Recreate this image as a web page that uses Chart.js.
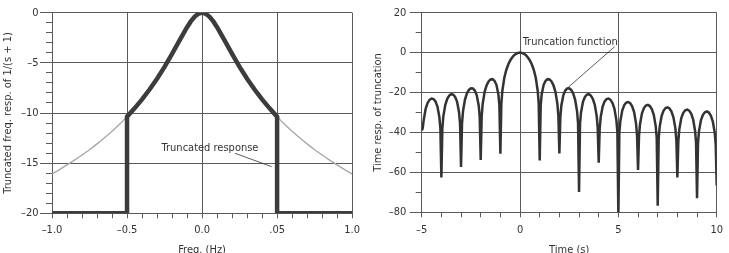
<!DOCTYPE html>
<html><head><meta charset="utf-8">
<script src="https://cdn.jsdelivr.net/npm/chart.js@4.4.0/dist/chart.umd.min.js"></script>
<style>
html,body{margin:0;padding:0;background:#fff;overflow:hidden;width:729px;height:253px;}
#left{position:absolute;left:0;top:0;}
#right{position:absolute;left:365px;top:0;}
</style></head><body>
<canvas id="left" width="365" height="260"></canvas>
<canvas id="right" width="364" height="260"></canvas>
<script>
// ---------- data: left panel ----------
const freqHz = [-1.0,-0.95,-0.9,-0.85,-0.8,-0.75,-0.7,-0.65,-0.6,-0.55,
  -0.5,-0.45,-0.4,-0.35,-0.3,-0.25,-0.2,-0.15,-0.1,-0.075,-0.05,-0.025,0,
  0.025,0.05,0.075,0.1,0.15,0.2,0.25,0.3,0.35,0.4,0.45,0.5,
  0.55,0.6,0.65,0.7,0.75,0.8,0.85,0.9,0.95,1.0];
const fullRespDb = [-16.07,-15.64,-15.18,-14.70,-14.19,-13.66,-13.08,-12.47,-11.82,-11.12,
  -10.36,-9.54,-8.64,-7.66,-6.58,-5.40,-4.11,-2.76,-1.44,-0.87,-0.41,-0.11,0,
  -0.11,-0.41,-0.87,-1.44,-2.76,-4.11,-5.40,-6.58,-7.66,-8.64,-9.54,-10.36,
  -11.12,-11.82,-12.47,-13.08,-13.66,-14.19,-14.70,-15.18,-15.64,-16.07];
const truncFreqHz = [-1.0,-0.5,-0.5,-0.45,-0.4,-0.35,-0.3,-0.25,-0.2,-0.15,-0.1,-0.075,-0.05,-0.025,0,
  0.025,0.05,0.075,0.1,0.15,0.2,0.25,0.3,0.35,0.4,0.45,0.5,0.5,1.0];
const truncRespDb = [-20,-20,-10.36,-9.54,-8.64,-7.66,-6.58,-5.40,-4.11,-2.76,-1.44,-0.87,-0.41,-0.11,0,
  -0.11,-0.41,-0.87,-1.44,-2.76,-4.11,-5.40,-6.58,-7.66,-8.64,-9.54,-10.36,-20,-20];
const freqTickValues = [-1,-0.5,0,0.5,1];
const freqTickLabels = ['\u20131.0','\u20130.5','0.0','.05','1.0'];
const leftYTickValues = [0,-5,-10,-15,-20];
const leftYTickLabels = ['0','\u20135','\u201310','\u201315','\u201320'];

// ---------- data: right panel ----------
const timeS = [
  -5,-4.95,-4.9,-4.8,-4.7,-4.6,-4.5,-4.4,-4.3,-4.2,-4.1,-4.05,
  -4,-3.95,-3.9,-3.8,-3.7,-3.6,-3.5,-3.4,-3.3,-3.2,-3.1,-3.05,
  -3,-2.95,-2.9,-2.8,-2.7,-2.6,-2.5,-2.4,-2.3,-2.2,-2.1,-2.05,
  -2,-1.95,-1.9,-1.8,-1.7,-1.6,-1.5,-1.4,-1.3,-1.2,-1.1,-1.05,
  -1,-0.95,-0.9,-0.8,-0.7,-0.6,-0.5,-0.4,-0.3,-0.2,-0.1,
  0,0.1,0.2,0.3,0.4,0.5,0.6,0.7,0.8,0.9,0.95,
  1,1.05,1.1,1.2,1.3,1.4,1.5,1.6,1.7,1.8,1.9,1.95,
  2,2.05,2.1,2.2,2.3,2.4,2.5,2.6,2.7,2.8,2.9,2.95,
  3,3.05,3.1,3.2,3.3,3.4,3.5,3.6,3.7,3.8,3.9,3.95,
  4,4.05,4.1,4.2,4.3,4.4,4.5,4.6,4.7,4.8,4.9,4.95,
  5,5.05,5.1,5.2,5.3,5.4,5.5,5.6,5.7,5.8,5.9,5.95,
  6,6.05,6.1,6.2,6.3,6.4,6.5,6.6,6.7,6.8,6.9,6.95,
  7,7.05,7.1,7.2,7.3,7.4,7.5,7.6,7.7,7.8,7.9,7.95,
  8,8.05,8.1,8.2,8.3,8.4,8.5,8.6,8.7,8.8,8.9,8.95,
  9,9.05,9.1,9.2,9.3,9.4,9.5,9.6,9.7,9.8,9.9,9.95,
  10];
const timeRespDb = [
  -39,-38,-33.94,-28.17,-25.22,-23.64,-23.00,-23.25,-24.45,-27.01,-32.40,-38.21,
  -62.5,-37.99,-31.96,-26.15,-23.14,-21.51,-20.82,-21.01,-22.15,-24.65,-29.97,-35.75,
  -57.3,-35.46,-29.39,-23.49,-20.41,-18.68,-17.90,-17.98,-19.01,-21.40,-26.58,-32.30,
  -53.8,-31.86,-25.72,-19.66,-16.39,-14.46,-13.46,-13.30,-14.06,-16.13,-20.97,-26.48,
  -50.7,-25.61,-19.23,-12.62,-8.69,-5.94,-3.92,-2.42,-1.33,-0.58,-0.14,
  0,-0.14,-0.58,-1.33,-2.42,-3.92,-5.94,-8.69,-12.62,-19.23,-25.61,
  -54,-26.48,-20.97,-16.13,-14.06,-13.30,-13.46,-14.46,-16.39,-19.66,-25.72,-31.86,
  -50.5,-32.30,-26.58,-21.40,-19.01,-17.98,-17.90,-18.68,-20.41,-23.49,-29.39,-35.46,
  -69.8,-35.75,-29.97,-24.65,-22.15,-21.01,-20.82,-21.51,-23.14,-26.15,-31.96,-37.99,
  -55.2,-38.21,-32.40,-27.01,-24.45,-23.25,-23.00,-23.64,-25.22,-28.17,-33.94,-39.95,
  -82,-40.13,-34.29,-28.87,-26.27,-25.03,-24.75,-25.34,-26.90,-29.82,-35.56,-41.55,
  -58.8,-41.70,-35.85,-30.40,-27.77,-26.50,-26.20,-26.77,-28.30,-31.20,-36.92,-42.90,
  -76.7,-43.02,-37.17,-31.70,-29.05,-27.76,-27.44,-28.00,-29.51,-32.39,-38.09,-44.07,
  -62.5,-44.18,-38.31,-32.83,-30.16,-28.87,-28.53,-29.07,-30.57,-33.44,-39.13,-45.10,
  -73,-45.19,-39.32,-33.83,-31.15,-29.84,-29.49,-30.03,-31.52,-34.37,-40.05,-46.02,
  -66.5];
const timeTickValues = [-5,0,5,10];
const timeTickLabels = ['\u20135','0','5','10'];
const rightYTickValues = [20,0,-20,-40,-60,-80];
const rightYTickLabels = ['20','0','\u201320','\u201340','\u201360','\u201380'];

// ---------- styling / helpers ----------
const FONT = "'DejaVu Sans Condensed','Liberation Sans Narrow','Liberation Sans',sans-serif";
const FSIZE = 11;
const GRID = '#5a5a5a';
const TXT = '#333';
const NONE = 'rgba(0,0,0,0)';

function labelFor(v, vals, labels) {
  for (let i = 0; i < vals.length; i++) if (Math.abs(v - vals[i]) < 1e-6) return labels[i];
  return '';
}
function isOn(v, vals) { return vals.some(t => Math.abs(v - t) < 1e-6); }
function pts(xs, ys) { return xs.map((x, i) => ({x: x, y: ys[i]})); }

const notePlugin = {
  id: 'notes',
  afterDatasetsDraw(chart, args, opts) {
    const {ctx} = chart; const sx = chart.scales.x, sy = chart.scales.y;
    (opts.items || []).forEach(n => {
      ctx.save();
      ctx.strokeStyle = '#333'; ctx.lineWidth = 0.8;
      ctx.beginPath();
      ctx.moveTo(sx.getPixelForValue(n.from[0]), sy.getPixelForValue(n.from[1]));
      ctx.lineTo(sx.getPixelForValue(n.to[0]), sy.getPixelForValue(n.to[1]));
      ctx.stroke();
      ctx.font = FSIZE + 'px ' + FONT; ctx.fillStyle = TXT;
      ctx.textAlign = 'center'; ctx.textBaseline = 'middle';
      ctx.fillText(n.text, sx.getPixelForValue(n.x), sy.getPixelForValue(n.y));
      ctx.restore();
    });
  }
};

function axes(cfg) {
  return {
    x: {
      type: 'linear', min: cfg.xMin, max: cfg.xMax,
      ticks: {stepSize: cfg.xStep, autoSkip: false, maxRotation: 0, padding: cfg.xLabelPad, color: TXT,
        font: {family: FONT, size: FSIZE},
        callback: v => labelFor(v, cfg.xTickValues, cfg.xTickLabels)},
      grid: {color: c => isOn(c.tick.value, cfg.xTickValues) ? GRID : NONE, tickColor: GRID, tickLength: 5, lineWidth: 1},
      border: {color: GRID},
      title: {display: true, text: cfg.xTitle, color: TXT, font: {family: FONT, size: FSIZE}, padding: {top: 0, bottom: 3.6}},
      afterFit: s => { s.height = cfg.xHeight; }
    },
    y: {
      type: 'linear', position: 'left', weight: 1, min: cfg.yMin, max: cfg.yMax,
      ticks: {stepSize: cfg.yStep, padding: cfg.yLabelPad, color: TXT, font: {family: FONT, size: FSIZE},
        callback: v => labelFor(v, cfg.yTickValues, cfg.yTickLabels)},
      grid: {color: GRID, tickColor: GRID, tickLength: 12, lineWidth: 1},
      border: {color: GRID},
      title: {display: true, text: cfg.yTitle, color: TXT, font: {family: FONT, size: FSIZE}, padding: {top: cfg.yTitlePad, bottom: 0}},
      afterFit: s => { s.width = cfg.yWidth; }
    },
    yMinor: {
      type: 'linear', axis: 'y', position: 'left', weight: 0, min: cfg.yMin, max: cfg.yMax,
      ticks: {display: false, stepSize: cfg.yMinorStep},
      grid: {drawOnChartArea: false, tickColor: GRID, tickLength: 6, lineWidth: 1},
      border: {display: false},
      afterFit: s => { s.width = 0; }
    }
  };
}

Chart.defaults.font.family = FONT;

new Chart(document.getElementById('left'), {
  type: 'line',
  data: {datasets: [
    {data: pts(truncFreqHz, truncRespDb), borderColor: '#3c3c3c', borderWidth: 4.5, pointRadius: 0, tension: 0, borderJoinStyle: 'miter'},
    {data: pts(freqHz, fullRespDb), borderColor: '#a9a9a9', borderWidth: 1.4, pointRadius: 0, tension: 0.3}
  ]},
  options: {
    responsive: false, animation: false, devicePixelRatio: 1,
    layout: {padding: {left: 0, right: 12.7, top: 12.7, bottom: 0}},
    plugins: {legend: {display: false}, tooltip: {enabled: false},
      notes: {items: [{text: 'Truncated response', x: 0.053, y: -13.5, from: [0.22, -14.02], to: [0.464, -15.35]}]}},
    scales: axes({xMin: -1, xMax: 1, xStep: 0.1, xTickValues: freqTickValues, xTickLabels: freqTickLabels,
      xTitle: 'Freq. (Hz)', xHeight: 46.7, xLabelPad: 5,
      yMin: -20, yMax: 0, yStep: 5, yMinorStep: 1, yTickValues: leftYTickValues, yTickLabels: leftYTickLabels,
      yTitle: 'Truncated freq. resp. of 1/(s + 1)', yTitlePad: 1.5, yWidth: 52, yLabelPad: 1.5})
  },
  plugins: [notePlugin]
});

new Chart(document.getElementById('right'), {
  type: 'line',
  data: {datasets: [
    {data: pts(timeS, timeRespDb), borderColor: '#333', borderWidth: 2.5, pointRadius: 0, tension: 0, clip: 0}
  ]},
  options: {
    responsive: false, animation: false, devicePixelRatio: 1,
    layout: {padding: {left: 0, right: 6.7, top: 12.7, bottom: 0}},
    plugins: {legend: {display: false}, tooltip: {enabled: false},
      notes: {items: [{text: 'Truncation function', x: 2.55, y: 5.47, from: [4.81, 2.97], to: [2.45, -17.37]}]}},
    scales: axes({xMin: -5, xMax: 10, xStep: 1, xTickValues: timeTickValues, xTickLabels: timeTickLabels,
      xTitle: 'Time (s)', xHeight: 47.7, xLabelPad: 6,
      yMin: -80, yMax: 20, yStep: 20, yMinorStep: 10, yTickValues: rightYTickValues, yTickLabels: rightYTickLabels,
      yTitle: 'Time resp. of truncation', yTitlePad: 6.5, yWidth: 56.7, yLabelPad: 3.3})
  },
  plugins: [notePlugin]
});
</script>
</body></html>
